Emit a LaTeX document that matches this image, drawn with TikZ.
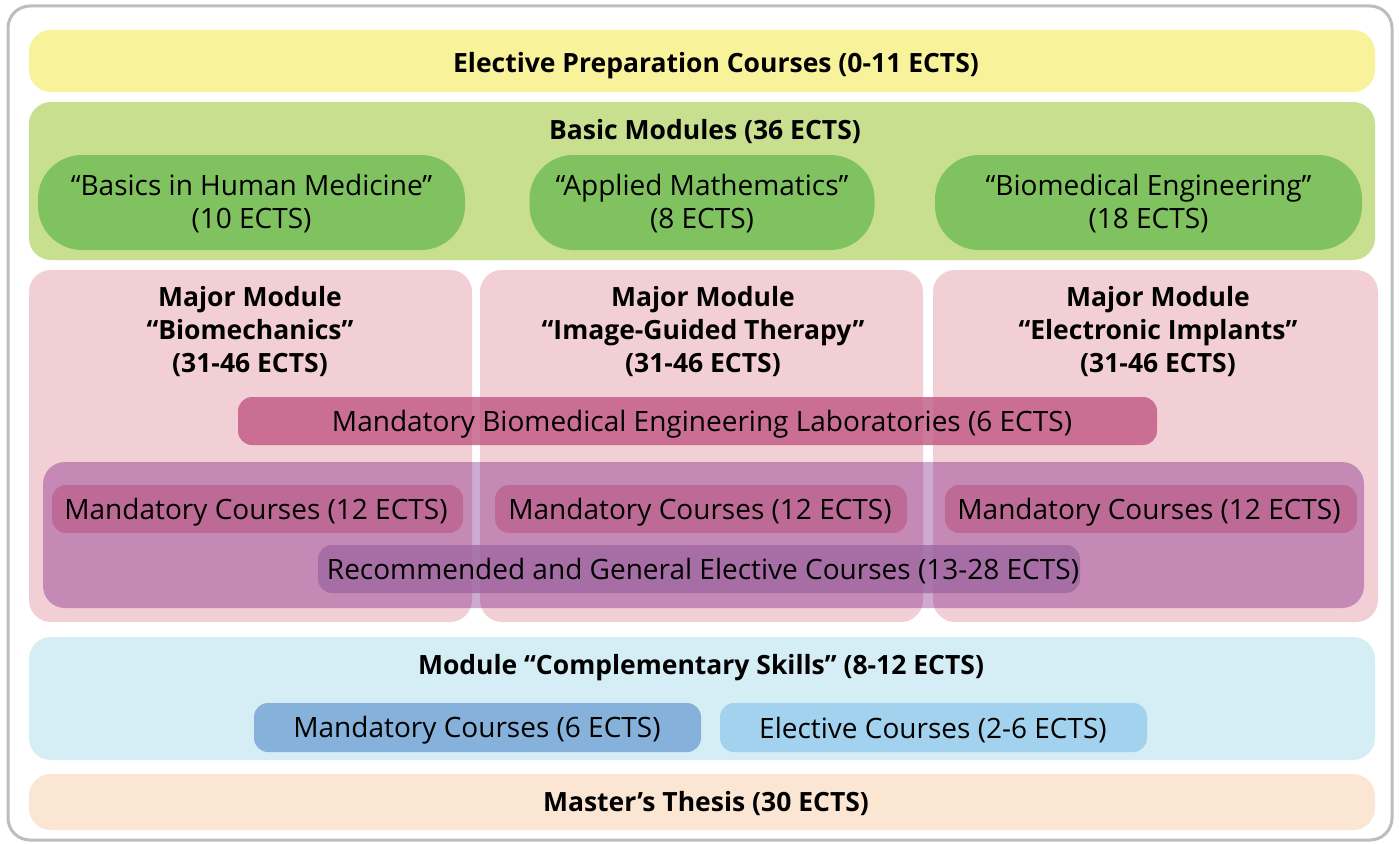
\documentclass[tikz,border=0pt]{standalone}
\usepackage{fontspec}
\setmainfont{Open Sans}
\definecolor{frameg}{HTML}{BDBDBD}
\definecolor{yel}{HTML}{F8F29B}
\definecolor{gbig}{HTML}{C8DF8F}
\definecolor{gpill}{HTML}{80C160}
\definecolor{pinkm}{HTML}{F2CFD4}
\definecolor{labc}{RGB}{193,88,131}
\definecolor{contc}{RGB}{112,12,126}
\definecolor{m12c}{RGB}{189,107,150}
\definecolor{recc}{RGB}{160,104,161}
\definecolor{blueb}{HTML}{D5EDF5}
\definecolor{mand6c}{HTML}{86B1DA}
\definecolor{electc}{HTML}{A3D2EE}
\definecolor{thesc}{HTML}{FBE6D4}
\tikzset{
  blk/.style={rectangle, draw=none, rounded corners=22pt, inner sep=0pt, align=center},
  bar/.style={blk, rounded corners=14pt},
  pillbox/.style={blk, rounded corners=44pt},
  ttl/.style={font=\fontsize{26.5}{33}\selectfont\bfseries, align=center, inner sep=0pt},
  txt/.style={font=\fontsize{28}{33}\selectfont},
}
\begin{document}
\begin{tikzpicture}[x=1pt,y=-1pt]
\useasboundingbox (0,0) rectangle (1399,843);
\node[blk, draw=frameg, line width=3pt, fill=white, minimum width=1384pt, minimum height=834pt] (frame) at (700,423) {};
% top
\node[blk, fill=yel, minimum width=1346pt, minimum height=62pt] (prep) at (702,61) {};
\node[ttl] (prepT) at (716,66) {Elective Preparation Courses (0-11 ECTS)};
% basic modules
\node[blk, fill=gbig, minimum width=1346pt, minimum height=158pt] (basic) at (702,181) {};
\node[ttl] (basicT) at (705,132) {Basic Modules (36 ECTS)};
\node[pillbox, fill=gpill, minimum width=427pt, minimum height=95pt] (p1) at (251.5,202.5) {};
\node[txt, align=center, inner sep=0pt] (p1T) at (251.5,204) {“Basics in Human Medicine”\\(10 ECTS)};
\node[pillbox, fill=gpill, minimum width=345pt, minimum height=95pt] (p2) at (702,202.5) {};
\node[txt, align=center, inner sep=0pt] (p2T) at (702,204) {“Applied Mathematics”\\(8 ECTS)};
\node[pillbox, fill=gpill, minimum width=427pt, minimum height=95pt] (p3) at (1148.5,202.5) {};
\node[txt, align=center, inner sep=0pt] (p3T) at (1148.5,204) {“Biomedical Engineering”\\(18 ECTS)};
% majors
\node[blk, fill=pinkm, minimum width=443pt, minimum height=352pt] (maj1) at (250.5,446) {};
\node[blk, fill=pinkm, minimum width=443pt, minimum height=352pt] (maj2) at (701.5,446) {};
\node[blk, fill=pinkm, minimum width=445pt, minimum height=352pt] (maj3) at (1155.5,446) {};
\node[ttl] (maj1T) at (250,332) {Major Module\\“Biomechanics”\\(31-46 ECTS)};
\node[ttl] (maj2T) at (703,332) {Major Module\\“Image-Guided Therapy”\\(31-46 ECTS)};
\node[ttl] (maj3T) at (1158,332) {Major Module\\“Electronic Implants”\\(31-46 ECTS)};
\node[bar, fill=labc, fill opacity=0.8, minimum width=919pt, minimum height=48pt] (lab) at (697.5,421) {};
\node[txt, inner sep=0pt] (labT) at (702,424) {Mandatory Biomedical Engineering Laboratories (6 ECTS)};
\node[blk, fill=contc, fill opacity=0.35, minimum width=1321pt, minimum height=146pt] (cont) at (703.5,535) {};
\node[bar, fill=m12c, minimum width=411pt, minimum height=48pt] (m1) at (257.5,509) {};
\node[txt, inner sep=0pt] (m1T) at (256,512) {Mandatory Courses (12 ECTS)};
\node[bar, fill=m12c, minimum width=412pt, minimum height=48pt] (m2) at (701,509) {};
\node[txt, inner sep=0pt] (m2T) at (700,512) {Mandatory Courses (12 ECTS)};
\node[bar, fill=m12c, minimum width=412pt, minimum height=48pt] (m3) at (1151,509) {};
\node[txt, inner sep=0pt] (m3T) at (1149,512) {Mandatory Courses (12 ECTS)};
\node[bar, fill=recc, fill opacity=0.8, minimum width=762pt, minimum height=48pt] (rec) at (699,569) {};
\node[txt, inner sep=0pt] (recT) at (703,571) {Recommended and General Elective Courses (13-28 ECTS)};
% complementary
\node[blk, fill=blueb, minimum width=1346pt, minimum height=123pt] (comp) at (702,698.5) {};
\node[ttl] (compT) at (701,668) {Module “Complementary Skills” (8-12 ECTS)};
\node[bar, fill=mand6c, minimum width=447pt, minimum height=49pt] (mand6) at (477.5,727.5) {};
\node[txt, inner sep=0pt] (mand6T) at (477,730) {Mandatory Courses (6 ECTS)};
\node[bar, fill=electc, minimum width=427pt, minimum height=49pt] (elect) at (933.5,727.5) {};
\node[txt, inner sep=0pt] (electT) at (933,730) {Elective Courses (2-6 ECTS)};
% thesis
\node[blk, fill=thesc, minimum width=1346pt, minimum height=56pt] (thesis) at (702,802) {};
\node[ttl] (thesisT) at (706,804) {Master’s Thesis (30 ECTS)};
\end{tikzpicture}
\end{document}
